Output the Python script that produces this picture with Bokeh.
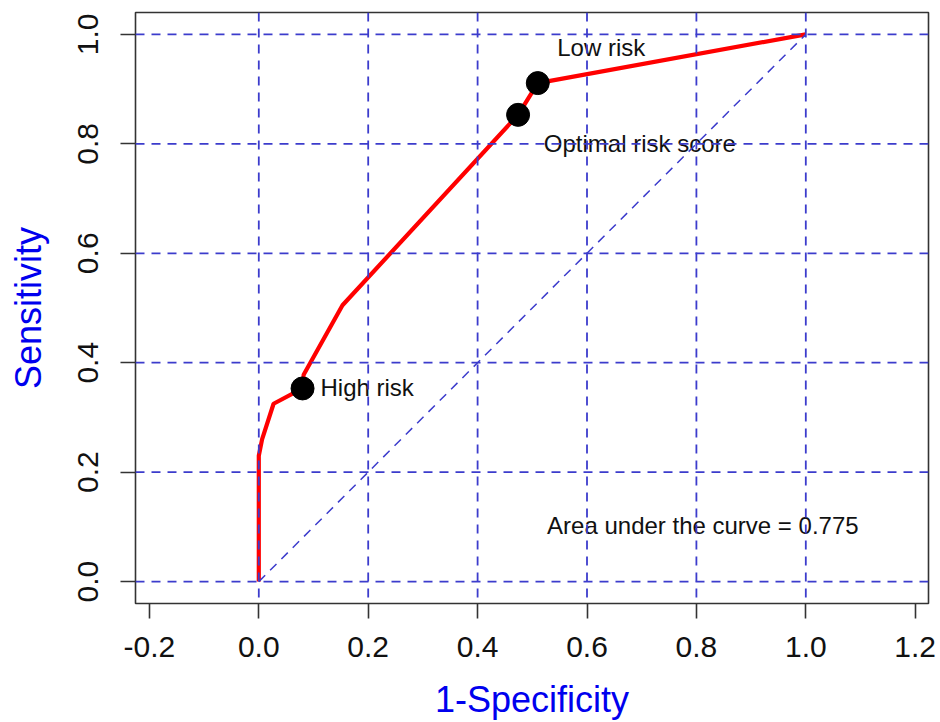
import math
from bokeh.plotting import figure
from bokeh.models import Range1d, FixedTicker, PrintfTickFormatter, Span, ColumnDataSource
from bokeh.core.properties import value
from bokeh.embed import file_html
from bokeh.resources import INLINE

# ROC curve (1-Specificity, Sensitivity)
fpr = [0.0, 0.0, 0.006, 0.027, 0.080, 0.082, 0.153, 0.474, 0.510, 1.0]
tpr = [0.0, 0.23, 0.26, 0.325, 0.353, 0.378, 0.505, 0.853, 0.911, 1.0]

# highlighted cut-off points
pt_names = ["High risk", "Optimal risk score", "Low risk"]
pt_fpr = [0.080, 0.474, 0.510]
pt_tpr = [0.353, 0.853, 0.911]

# annotation texts and their anchor positions (data units)
label_texts = ["Low risk", "Optimal risk score", "High risk", "Area under the curve = 0.775"]
label_x = [0.5455, 0.521, 0.1128, 0.527]
label_y = [0.976, 0.8015, 0.354, 0.103]

x_ticks = [-0.2, 0.0, 0.2, 0.4, 0.6, 0.8, 1.0, 1.2]
y_ticks = [0.0, 0.2, 0.4, 0.6, 0.8, 1.0]
grid_vals = [0.0, 0.2, 0.4, 0.6, 0.8, 1.0]
diag_x = [0.0, 1.0]
diag_y = [0.0, 1.0]

FONT = "Liberation Sans"
GRID_COLOR = "#3c3ccc"

p = figure(width=940, height=722, output_backend="svg", toolbar_location=None,
           x_range=Range1d(-0.2254, 1.2243), y_range=Range1d(-0.04, 1.04),
           min_border_left=135, min_border_right=12, min_border_top=12, min_border_bottom=119)
p.background_fill_color = "white"
p.border_fill_color = "white"
p.outline_line_color = "#333333"
p.outline_line_width = 1.6
p.xgrid.visible = False
p.ygrid.visible = False

for ax in (p.xaxis[0], p.yaxis[0]):
    ax.axis_line_color = None
    ax.major_tick_line_color = "#333333"
    ax.major_tick_line_width = 1.6
    ax.major_tick_out = 15
    ax.major_tick_in = 0
    ax.minor_tick_line_color = None
    ax.major_label_text_font = FONT
    ax.major_label_text_font_size = "30px"
    ax.major_label_text_color = "#111111"
    ax.axis_label_text_font = FONT
    ax.axis_label_text_font_size = "36px"
    ax.axis_label_text_font_style = "normal"
    ax.axis_label_text_color = "#0000ee"
    ax.formatter = PrintfTickFormatter(format="%.1f")

p.xaxis.ticker = FixedTicker(ticks=x_ticks)
p.yaxis.ticker = FixedTicker(ticks=y_ticks)
p.xaxis.axis_label = "1-Specificity"
p.yaxis.axis_label = "Sensitivity"
p.xaxis.major_label_standoff = 18
p.xaxis.axis_label_standoff = 19
p.yaxis.major_label_standoff = 22
p.yaxis.axis_label_standoff = 27
p.yaxis.major_label_orientation = "vertical"

# ROC curve
p.line(fpr, tpr, line_color="#ff0000", line_width=4.2)
# cut-off points
src = ColumnDataSource(dict(x=pt_fpr, y=pt_tpr, name=pt_names))
p.scatter("x", "y", source=src, size=23, fill_color="black", line_color="black")

# labels
p.text(x=label_x, y=label_y, text=label_texts, text_font=value(FONT),
       text_font_size="24px", text_color="#111111", text_align="left", text_baseline="middle")

# dashed reference lines drawn on top
for v in grid_vals:
    p.add_layout(Span(location=v, dimension="height", line_color=GRID_COLOR,
                      line_dash="9 7", line_width=1.8, level="overlay"))
    p.add_layout(Span(location=v, dimension="width", line_color=GRID_COLOR,
                      line_dash="9 7", line_width=1.8, level="overlay"))
p.line(diag_x, diag_y, line_color=GRID_COLOR, line_dash="9 7", line_width=1.5)

open("out.html", "w").write(file_html(p, INLINE))
